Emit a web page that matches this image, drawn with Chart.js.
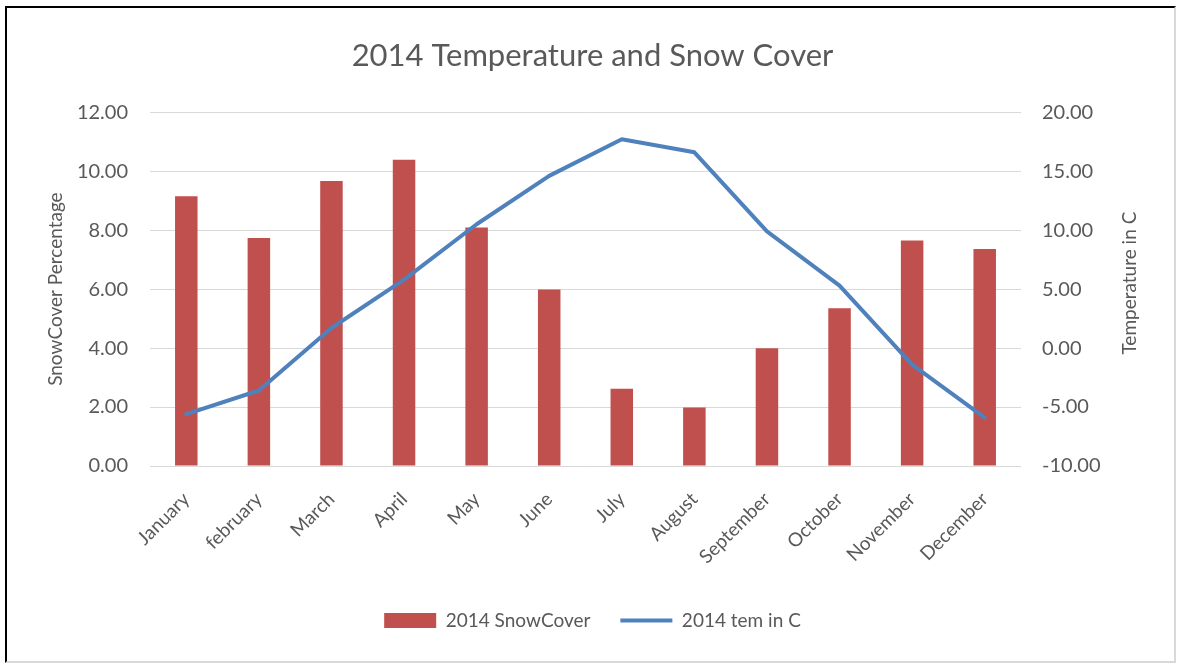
<!DOCTYPE html>
<html>
<head>
<meta charset="utf-8">
<script src="https://cdn.jsdelivr.net/npm/chart.js@4/dist/chart.umd.min.js"></script>
<style>
  body { margin: 0; background: #fff; }
  #frame {
    position: absolute; left: 5px; top: 6px;
    width: 1167px; height: 653px;
    border-left: 2px solid #000; border-top: 2px solid #000;
    border-right: 2px solid #d9d9d9; border-bottom: 2px solid #d9d9d9;
  }
  canvas { display: block; }
</style>
</head>
<body>
<div id="frame"><canvas id="chart" width="1167" height="653"></canvas></div>
<script>
const months = ['January', 'february', 'March', 'April', 'May', 'June', 'July',
                'August', 'September', 'October', 'November', 'December'];
const snowCover = [9.15, 7.73, 9.67, 10.39, 8.09, 5.99, 2.62, 1.98, 3.99, 5.35, 7.65, 7.36];
const temperature = [-5.6, -3.6, 1.7, 5.8, 10.5, 14.6, 17.7, 16.6, 9.9, 5.3, -1.4, -5.9];

const textColor = '#595959';
const fontFamily = 'Lato, "Open Sans", sans-serif';

function fixWidth(w) {
    return function(scale) { scale.width = w; };
}

// right axis title reads bottom-to-top like Excel's, Chart.js turns it the other way
const rightTitle = {
    id: 'rightTitle',
    afterDraw(chart) {
        const ctx = chart.ctx;
        const area = chart.chartArea;
        ctx.save();
        ctx.translate(1123, (area.top + area.bottom) / 2 - 6);
        ctx.rotate(-Math.PI / 2);
        ctx.fillStyle = textColor;
        ctx.font = '19px ' + fontFamily;
        ctx.textAlign = 'center';
        ctx.textBaseline = 'middle';
        ctx.fillText('Temperature in C', 0, 0);
        ctx.restore();
    }
};

new Chart(document.getElementById('chart').getContext('2d'), {
    data: {
        labels: months,
        datasets: [{
            type: 'bar',
            label: '2014 SnowCover',
            data: snowCover,
            backgroundColor: '#C0504D',
            borderWidth: 0,
            yAxisID: 'y',
            order: 1,
            pointStyle: 'rect',
            categoryPercentage: 1,
            barPercentage: 0.31
        }, {
            type: 'line',
            label: '2014 tem in C',
            data: temperature,
            borderColor: '#4F81BD',
            backgroundColor: '#4F81BD',
            borderWidth: 4,
            borderCapStyle: 'round',
            borderJoinStyle: 'round',
            tension: 0,
            pointRadius: 0,
            pointStyle: 'line',
            yAxisID: 'y1',
            order: 0
        }]
    },
    options: {
        responsive: false,
        animation: false,
        layout: { padding: { left: 33, right: 29, top: 0, bottom: 21 } },
        plugins: {
            title: {
                display: true,
                text: '2014 Temperature and Snow Cover',
                color: textColor,
                font: { family: fontFamily, size: 31, weight: 'normal' },
                padding: { top: 29, bottom: 38 }
            },
            legend: {
                position: 'bottom',
                labels: {
                    usePointStyle: true,
                    pointStyleWidth: 52,
                    boxHeight: 15,
                    padding: 30,
                    color: textColor,
                    font: { family: fontFamily, size: 19 },
                    sort: (a, b) => a.datasetIndex - b.datasetIndex
                }
            },
            tooltip: { enabled: false }
        },
        scales: {
            x: {
                grid: { display: false },
                border: { display: false },
                ticks: {
                    color: textColor,
                    font: { family: fontFamily, size: 19 },
                    minRotation: 45,
                    maxRotation: 45,
                    padding: 14
                },
                afterFit: function(scale) { scale.height = 115; }
            },
            y: {
                position: 'left',
                min: 0,
                max: 12,
                ticks: {
                    stepSize: 2,
                    color: textColor,
                    font: { family: fontFamily, size: 20 },
                    padding: 22,
                    callback: v => v.toFixed(2)
                },
                grid: { color: '#d9d9d9', lineWidth: 1, drawTicks: false },
                border: { display: false },
                title: {
                    display: true,
                    text: 'SnowCover Percentage',
                    color: textColor,
                    font: { family: fontFamily, size: 19 }
                },
                afterFit: fixWidth(110)
            },
            y1: {
                position: 'right',
                min: -10,
                max: 20,
                ticks: {
                    stepSize: 5,
                    color: textColor,
                    font: { family: fontFamily, size: 20 },
                    padding: 21,
                    callback: v => v.toFixed(2)
                },
                grid: { display: false, drawTicks: false },
                border: { display: false },
                afterFit: fixWidth(124)
            }
        }
    },
    plugins: [rightTitle]
});
</script>
</body>
</html>
